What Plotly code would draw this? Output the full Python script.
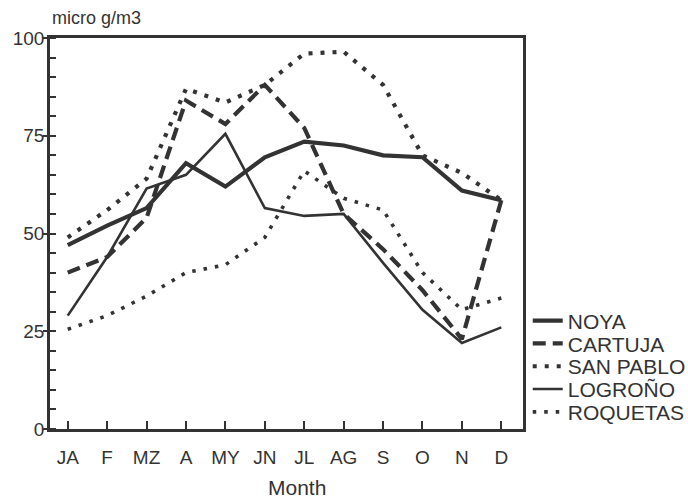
import plotly.graph_objects as go

months = ["JA", "F", "MZ", "A", "MY", "JN", "JL", "AG", "S", "O", "N", "D"]

noya = [47, 52, 56.5, 68, 62, 69.5, 73.5, 72.5, 70, 69.5, 61, 58.5]
cartuja = [40, 44, 54, 84, 78, 88, 77, 55, 46, 35.5, 23, 58.5]
san_pablo = [49, 56, 64, 87, 83.5, 88, 96, 96.5, 88, 70, 65.5, 58.5]
logrono = [29, 44, 61.5, 65, 75.5, 56.5, 54.5, 55, 42.5, 30.5, 22, 26]
roquetas = [25.5, 29, 34, 40, 42, 49, 66, 59, 56, 40, 30.5, 33.5]

ink = "#333333"
font_family = "Liberation Sans, Arial, sans-serif"

series = [
    ("NOYA", noya, dict(width=4.2, dash="solid")),
    ("CARTUJA", cartuja, dict(width=4.2, dash="13px,7px")),
    ("SAN PABLO", san_pablo, dict(width=4.2, dash="4px,8px")),
    ("LOGROÑO", logrono, dict(width=2.6, dash="solid")),
    ("ROQUETAS", roquetas, dict(width=3.6, dash="3.5px,8px")),
]

# one small legend per series so the entries can sit close together
legend_top_px = 321      # centre of the first entry, in pixels from the top
legend_step_px = 22.8
plot_top, plot_bottom = 38, 429
plot_height = plot_bottom - plot_top

fig = go.Figure()
legend_layouts = {}
for i, (name, vals, style) in enumerate(series):
    key = "legend" if i == 0 else f"legend{i + 1}"
    fig.add_trace(go.Scatter(
        x=months, y=vals, name=name, mode="lines", legend=key,
        line=dict(color=ink, width=style["width"], dash=style["dash"]),
    ))
    yc = legend_top_px + i * legend_step_px
    legend_layouts[key] = dict(
        x=1.01, xanchor="left",
        y=(plot_bottom - yc) / plot_height, yanchor="middle",
        font=dict(size=21, color=ink, family=font_family),
        bgcolor="rgba(0,0,0,0)", itemwidth=30,
    )

fig.update_layout(
    width=688, height=502,
    margin=dict(l=50, r=165, t=plot_top, b=502 - plot_bottom, autoexpand=False),
    paper_bgcolor="white", plot_bgcolor="white",
    font=dict(family=font_family, color=ink, size=18),
    showlegend=True,
    annotations=[
        dict(text="micro g/m3", xref="paper", yref="paper",
             x=0.0, xanchor="left", y=1.052, yanchor="middle",
             showarrow=False, font=dict(size=18, color=ink, family=font_family)),
        dict(text="Month", xref="paper", yref="paper",
             x=0.522, xanchor="center", y=(plot_bottom - 487) / plot_height,
             yanchor="middle", showarrow=False,
             font=dict(size=21, color=ink, family=font_family)),
    ],
    **legend_layouts,
)

fig.update_xaxes(
    type="category", range=[-0.45, 11.55],
    showline=True, linecolor=ink, linewidth=2.5, mirror=True,
    ticks="inside", ticklen=8, tickwidth=2, tickcolor=ink,
    showgrid=False, zeroline=False,
    tickfont=dict(size=19, color=ink), ticklabelstandoff=9,
)

fig.update_yaxes(
    range=[0, 100], tickvals=[0, 25, 50, 75, 100],
    showline=True, linecolor=ink, linewidth=2.5, mirror=True,
    ticks="outside", ticklen=4, tickwidth=2, tickcolor=ink,
    minor=dict(ticks="inside", ticklen=6, tickwidth=1.5, tickcolor=ink,
               tickmode="linear", dtick=5, showgrid=False),
    showgrid=False, zeroline=False,
    tickfont=dict(size=19, color=ink), ticklabelstandoff=-5,
)

fig.write_html("out.html")
